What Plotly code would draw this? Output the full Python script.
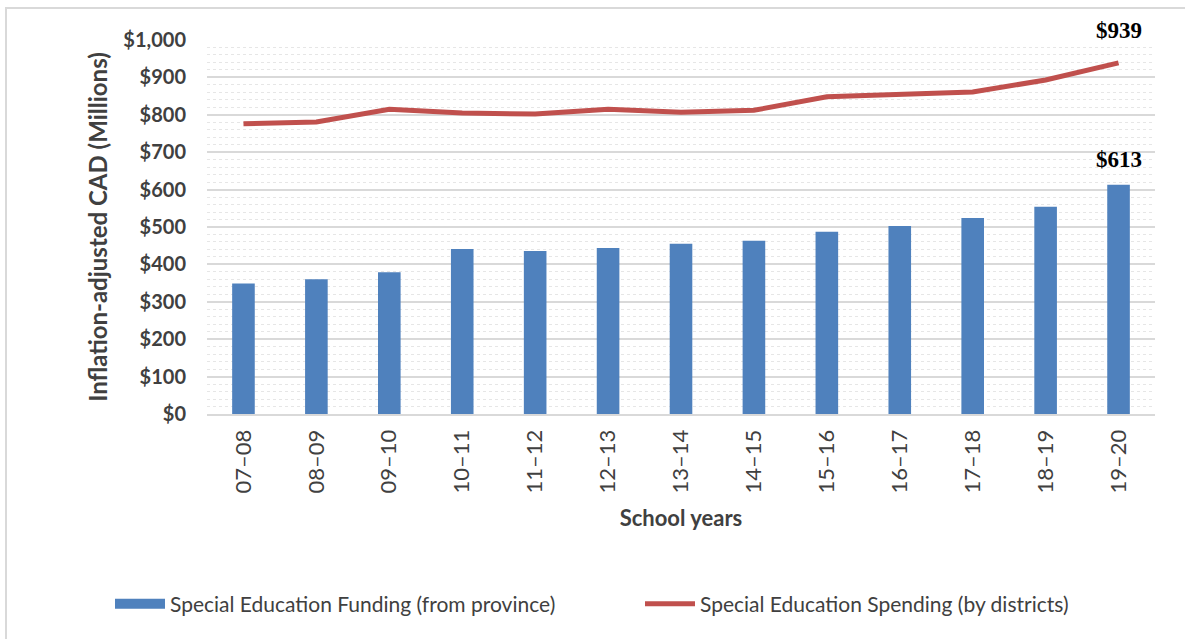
import plotly.graph_objects as go

years = ["07\u201308", "08\u201309", "09\u201310", "10\u201311", "11\u201312", "12\u201313", "13\u201314",
         "14\u201315", "15\u201316", "16\u201317", "17\u201318", "18\u201319", "19\u201320"]
funding = [349, 360, 379, 441, 436, 444, 455, 463, 487, 503, 524, 554, 613]
spending = [776, 781, 815, 805, 802, 815, 807, 812, 848, 853, 861, 893, 939]
ytick_vals = [0, 100, 200, 300, 400, 500, 600, 700, 800, 900, 1000]
ytick_text = ["$0", "$100", "$200", "$300", "$400", "$500", "$600", "$700", "$800", "$900", "$1,000"]
name_funding = "Special Education Funding (from province)"
name_spending = "Special Education Spending (by districts)"

W, H = 1185, 639
L, R, T, B = 207, 30, 40, 225
pw, ph = W - L - R, H - T - B

def px_x(p):
    return (p - L) / pw

def px_y(p):
    return (H - B - p) / ph

BLUE = "#4f81bd"
RED = "#c0504d"

fig = go.Figure()
fig.add_trace(go.Bar(x=years, y=funding, name=name_funding, showlegend=False,
                     marker=dict(color=BLUE, line=dict(width=0)), width=0.31))
# legend key for the bars (wide rectangle like the original)
fig.add_trace(go.Scatter(x=[None], y=[None], mode="lines", name=name_funding,
                         line=dict(color=BLUE, width=13)))
fig.add_trace(go.Scatter(x=years, y=spending, mode="lines", name=name_spending,
                         line=dict(color=RED, width=5)))

fig.add_annotation(x=years[-1], y=spending[-1], text="<b>$939</b>", showarrow=False,
                   yanchor="bottom", yshift=18,
                   font=dict(family="Liberation Serif", size=23, color="#000000"))
fig.add_annotation(x=years[-1], y=funding[-1], text="<b>$613</b>", showarrow=False,
                   yanchor="bottom", yshift=11,
                   font=dict(family="Liberation Serif", size=23, color="#000000"))

fig.add_shape(type="rect", xref="paper", yref="paper",
              x0=px_x(6), x1=px_x(1200), y0=px_y(660), y1=px_y(8),
              line=dict(color="#d9d9d9", width=2), fillcolor="rgba(0,0,0,0)", layer="below")

fig.update_layout(
    width=W, height=H,
    margin=dict(l=L, r=R, t=T, b=B, autoexpand=False),
    paper_bgcolor="white", plot_bgcolor="white",
    font=dict(family="Lato", color="#404040"),
    showlegend=True,
    legend=dict(orientation="h", x=px_x(110), xanchor="left", y=px_y(604), yanchor="middle",
                font=dict(size=21, color="#404040"), itemwidth=50, entrywidth=465,
                entrywidthmode="pixels", tracegroupgap=0, bgcolor="rgba(0,0,0,0)"),
    bargap=0.69,
)
fig.update_xaxes(
    type="category", tickangle=-90, tickfont=dict(size=22, color="#404040"),
    ticklabelstandoff=5,
    showline=True, linecolor="#d9d9d9", linewidth=2, ticks="", showgrid=False,
    title=dict(text="<b>School years</b>", font=dict(size=22, color="#404040"), standoff=18),
)
fig.update_yaxes(
    range=[0, 1000], tickvals=ytick_vals, ticktext=ytick_text,
    tickfont=dict(size=20, color="#404040", family="Lato", weight="bold"),
    ticklabelstandoff=20,
    showgrid=True, gridcolor="#d9d9d9", gridwidth=2, zeroline=False,
    minor=dict(dtick=20, showgrid=True, gridcolor="#e6e6e6", griddash="dot", gridwidth=1),
    title=dict(text="<b>Inflation-adjusted CAD (Millions)</b>", font=dict(size=24, color="#404040"), standoff=8),
)

fig.write_html("out.html")
